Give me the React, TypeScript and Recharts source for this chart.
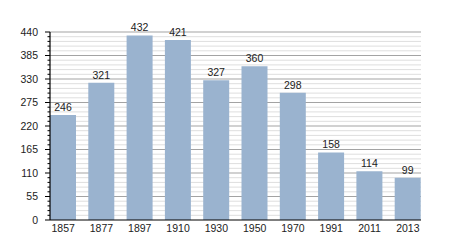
import React from "react";
import { Bar, BarChart, CartesianGrid, LabelList, XAxis, YAxis } from "recharts";

const years = ["1857", "1877", "1897", "1910", "1930", "1950", "1970", "1991", "2011", "2013"];
const population = [246, 321, 432, 421, 327, 360, 298, 158, 114, 99];
const majorTicks = [0, 55, 110, 165, 220, 275, 330, 385, 440];
// 4 minor lines between each pair of major ticks (every 11)
const minorTicks = majorTicks.slice(1).flatMap((m) => [1, 2, 3, 4].map((k) => m - 55 + k * 11));
const allTicks = [...majorTicks, ...minorTicks].sort((a, b) => a - b);

const data = years.map((year, i) => ({ year, value: population[i] }));

const FONT = "'Liberation Sans', Arial, sans-serif";
const FONT_SIZE = 10.5;
const BAR_COLOR = "#9ab3cf";

function YTick(props: any) {
  const { x, y, payload } = props;
  const major = payload.value % 55 === 0;
  return (
    <g>
      <line x1={x} x2={x - (major ? 5 : 2.5)} y1={y} y2={y} stroke="#000" strokeWidth={1} />
      {major && (
        <text x={x - 12} y={y} dy="0.35em" textAnchor="end" fontSize={FONT_SIZE} fill="#222" fontFamily={FONT}>
          {payload.value}
        </text>
      )}
    </g>
  );
}

function GridLine(props: any) {
  const { x1, x2, y1, y2, index } = props;
  const major = allTicks[index] % 55 === 0;
  if (allTicks[index] === 0) return null;
  return <line x1={x1} x2={x2} y1={y1} y2={y2} stroke={major ? "#a3a3a3" : "#dedede"} strokeWidth={1} />;
}

export default function App() {
  return (
    <div style={{ position: "absolute", left: 0, top: 0, width: 450, height: 250, background: "#fff" }}>
      <BarChart
        width={450}
        height={250}
        data={data}
        margin={{ top: 32, right: 29, left: 0, bottom: 0 }}
        barCategoryGap={6}
      >
        <CartesianGrid vertical={false} horizontal={(p: any) => <GridLine key={p.key} {...p} />} />
        <XAxis
          dataKey="year"
          height={30}
          tickLine={false}
          tickSize={0}
          tickMargin={5}
          padding={{ left: -6, right: -6 }}
          axisLine={{ stroke: "#000", strokeWidth: 1.2 }}
          tick={{ fontSize: FONT_SIZE, fill: "#222", fontFamily: FONT }}
          interval={0}
        />
        <YAxis
          width={50}
          domain={[0, 440]}
          ticks={allTicks}
          interval={0}
          tickSize={0}
          tickMargin={0}
          tickLine={false}
          axisLine={{ stroke: "#000", strokeWidth: 1.2 }}
          tick={<YTick />}
        />
        <Bar dataKey="value" fill={BAR_COLOR} isAnimationActive={false}>
          <LabelList dataKey="value" position="top" offset={4} fontSize={FONT_SIZE} fill="#222" fontFamily={FONT} />
        </Bar>
      </BarChart>
    </div>
  );
}
